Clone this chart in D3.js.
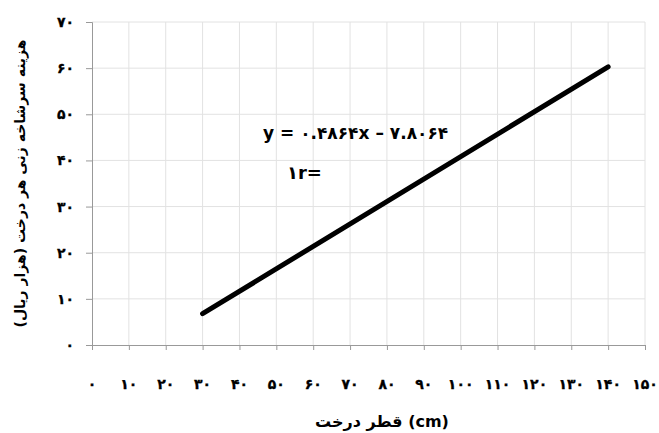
<!DOCTYPE html>
<html>
<head>
<meta charset="utf-8">
<script src="https://cdn.jsdelivr.net/npm/d3@7"></script>
<style>
  body { margin: 0; background: #fff; }
  svg { display: block; }
  .tick-label { font-family: "DejaVu Sans", sans-serif; font-weight: bold; font-size: 14px; fill: #000; stroke: #000; stroke-width: 0.3px; }
  .title { font-family: "DejaVu Sans", "Liberation Serif", serif; font-weight: bold; font-size: 13px; fill: #000; }
</style>
</head>
<body>
<svg id="chart" width="659" height="433"></svg>
<script>
// values
const xTicks = [0, 10, 20, 30, 40, 50, 60, 70, 80, 90, 100, 110, 120, 130, 140, 150];
const yTicks = [0, 10, 20, 30, 40, 50, 60, 70];
const lineX = [30, 140];
const lineY = [6.78, 60.29];
const equationText = "y = ۰.۴۸۶۴x – ۷.۸۰۶۴";
const rText = "۱r=";
const xTitle = "قطر درخت (cm)";
const yTitle = "هزینه سرشاخه زنی هر درخت (هزار ریال)";

const faDigits = "۰۱۲۳۴۵۶۷۸۹";
const toFa = n => String(n).replace(/\d/g, d => faDigits[+d]);

const svg = d3.select("#chart");
const plotLeft = 92, plotRight = 645, plotTop = 22, plotBottom = 345;

const x = d3.scaleLinear().domain([0, 150]).range([plotLeft, plotRight]);
const y = d3.scaleLinear().domain([0, 70]).range([plotBottom, plotTop]);

// grid
svg.append("g").selectAll("line").data(xTicks.slice(1)).join("line")
    .attr("x1", d => x(d)).attr("x2", d => x(d))
    .attr("y1", plotTop).attr("y2", plotBottom)
    .attr("stroke", "#e2e2e2").attr("stroke-width", 1);
svg.append("g").selectAll("line").data(yTicks.slice(1)).join("line")
    .attr("x1", plotLeft).attr("x2", plotRight)
    .attr("y1", d => y(d)).attr("y2", d => y(d))
    .attr("stroke", "#e2e2e2").attr("stroke-width", 1);

// axes
const xAxis = svg.append("g")
    .attr("transform", `translate(0,${plotBottom})`)
    .call(d3.axisBottom(x).tickValues(xTicks).tickSize(5).tickFormat(""));
const yAxis = svg.append("g")
    .attr("transform", `translate(${plotLeft},0)`)
    .call(d3.axisLeft(y).tickValues(yTicks).tickSize(6).tickFormat(""));
[xAxis, yAxis].forEach(a => {
    a.select(".domain").attr("stroke", "#999");
    a.selectAll(".tick line").attr("stroke", "#999");
});

// tick labels
svg.append("g").selectAll("text").data(xTicks).join("text")
    .attr("class", "tick-label")
    .attr("x", d => x(d)).attr("y", 389)
    .attr("text-anchor", "middle")
    .text(toFa);
svg.append("g").selectAll("text").data(yTicks).join("text")
    .attr("class", "tick-label")
    .attr("x", 74).attr("y", d => y(d) + 5)
    .attr("text-anchor", "end")
    .text(toFa);

// regression line
const pts = lineX.map((v, i) => [v, lineY[i]]);
svg.append("path").datum(pts)
    .attr("d", d3.line().x(d => x(d[0])).y(d => y(d[1])))
    .attr("fill", "none").attr("stroke", "#000")
    .attr("stroke-width", 5).attr("stroke-linecap", "round");

// equation
svg.append("text").attr("class", "title")
    .attr("x", 263).attr("y", 139)
    .style("font-size", "17px")
    .text(equationText);
svg.append("text").attr("class", "title")
    .attr("x", 287).attr("y", 179)
    .style("font-size", "18px")
    .text(rText);

// axis titles
svg.append("text").attr("class", "title")
    .attr("x", 382).attr("y", 427)
    .attr("text-anchor", "middle")
    .style("font-size", "16px")
    .text(xTitle);
svg.append("text").attr("class", "title")
    .attr("transform", `translate(25,${(plotTop + plotBottom) / 2}) rotate(-90)`)
    .attr("text-anchor", "middle")
    .style("font-size", "14px")
    .text(yTitle);
</script>
</body>
</html>
